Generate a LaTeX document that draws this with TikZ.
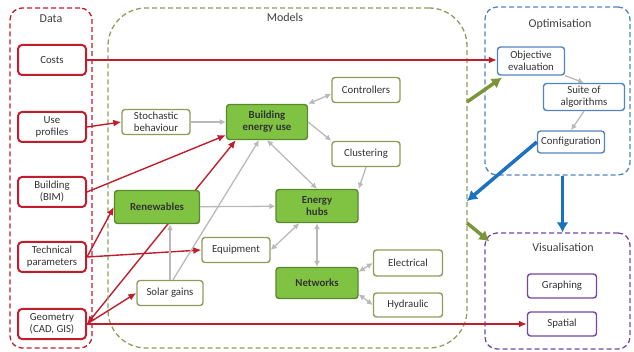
\documentclass[tikz,border=0pt]{standalone}
\usepackage{fontspec}
\setmainfont{Carlito}
\usetikzlibrary{arrows.meta,positioning,backgrounds}
\definecolor{datared}{RGB}{192,30,45}
\definecolor{modolive}{RGB}{142,158,90}
\definecolor{coregreen}{RGB}{128,195,66}
\definecolor{optblue}{RGB}{84,132,192}
\definecolor{visviolet}{RGB}{118,70,165}
\definecolor{flowgray}{RGB}{185,185,185}
\definecolor{linkblue}{RGB}{28,114,192}
\definecolor{linkgreen}{RGB}{122,150,58}

\begin{document}
\begin{tikzpicture}[x=1pt,y=-1pt,font=\fontsize{10.8}{12}\selectfont,>=Latex]
\tikzset{grp/.style={draw,dash pattern=on 5pt off 3pt,line width=1.3pt,rounded corners=12pt,inner sep=0pt},
box/.style={rounded corners=3pt,minimum width=68pt,minimum height=25pt,align=center,
inner sep=0.5pt,line width=1.4pt,fill=white,text=black!80},
databox/.style={box,draw=datared,line width=2pt,rounded corners=4pt,minimum height=30pt},
modbox/.style={box,draw=modolive},
corebox/.style={box,draw=coregreen!70!black,fill=coregreen,font=\fontsize{10.8}{12}\selectfont\bfseries,
minimum width=82pt,minimum height=33pt},
optbox/.style={box,draw=optblue},
visbox/.style={box,draw=visviolet,minimum width=69pt,minimum height=24pt},
grptitle/.style={text=black!75,font=\fontsize{12}{14}\selectfont},
dataflow/.style={->,draw=datared,line width=1.4pt,>={Latex[length=8pt,width=7pt]}},
modflow/.style={->,draw=flowgray,line width=1.3pt,>={Latex[length=6pt,width=6pt]}},
bigflow/.style={->,line width=3.5pt,>={Latex[length=10pt,width=12pt]}}}
\useasboundingbox (0,0) rectangle (634,352);
% groups
\node[grp,draw=datared,minimum width=82pt,minimum height=340pt] (data) at (51,178) {};
\node[grp,draw=modolive,rounded corners=38pt,minimum width=359pt,minimum height=340pt] (models) at (287.5,178) {};
\node[grp,draw=optblue,minimum width=145pt,minimum height=168pt] (opt) at (557.5,91) {};
\node[grp,draw=visviolet,minimum width=145pt,minimum height=116pt] (vis) at (557.5,291) {};
\node[grptitle] (datattl) at (51,19) {Data};
\node[grptitle] (modttl) at (285,17) {Models};
\node[grptitle] (optttl) at (560,24) {Optimisation};
\node[grptitle] (visttl) at (563,247) {Visualisation};
% data
\node[databox] (costs) at (52,60) {Costs};
\node[databox] (use) at (52,127) {Use\\profiles};
\node[databox] (bim) at (52,192) {Building\\(BIM)};
\node[databox] (tech) at (52,257) {Technical\\parameters};
\node[databox] (geom) at (52,324) {Geometry\\(CAD, GIS)};
% models
\node[modbox] (stoch) at (156,122) {Stochastic\\behaviour};
\node[corebox,minimum width=81pt,minimum height=35pt] (beu) at (267,122) {Building\\energy use};
\node[modbox] (ctrl) at (366,90) {Controllers};
\node[modbox] (clust) at (366,154) {Clustering};
\node[corebox] (hubs) at (317,206) {Energy\\hubs};
\node[corebox,minimum width=85pt] (ren) at (157,207) {Renewables};
\node[modbox] (equip) at (236,250) {Equipment};
\node[modbox,minimum width=66pt] (solar) at (170,293) {Solar gains};
\node[corebox,minimum height=31pt] (net) at (317,283) {Networks};
\node[modbox,minimum width=69pt,minimum height=26pt] (elec) at (408,263) {Electrical};
\node[modbox,minimum width=69pt,minimum height=24pt] (hyd) at (408,305) {Hydraulic};
% optimisation and visualisation
\node[optbox,minimum width=67pt,minimum height=28pt] (obj) at (531,61) {Objective\\evaluation};
\node[optbox,minimum width=81pt,minimum height=27pt] (suite) at (584,97) {Suite of\\algorithms};
\node[optbox,minimum width=67pt,minimum height=22pt] (config) at (571,142) {Configuration};
\node[visbox] (graph) at (562,286) {Graphing};
\node[visbox] (spatial) at (562,324) {Spatial};
% data links
\draw[dataflow] (costs.east) -- (costs.east -| obj.west);
\draw[dataflow] (use.east) -- (stoch.west);
\draw[dataflow] (bim.east) -- ([yshift=5pt]beu.south west);
\draw[dataflow] (tech.east) -- (ren.west);
\draw[dataflow] (tech.east) -- (equip.west);
\draw[dataflow] (geom.east) -- (solar.west);
\draw[dataflow] (geom.east) -- (geom.east -| spatial.west);
\begin{scope}[on background layer]
\draw[dataflow,<->] (geom.east) -- ([xshift=10pt]beu.south west);
\end{scope}
% model links
\draw[modflow] (stoch) -- (beu);
\draw[modflow,<->] (beu.north east) -- ([yshift=-4pt]ctrl.west);
\draw[modflow] (beu.east) -- (clust.north west);
\draw[modflow] (clust.south) -- (hubs.north east);
\draw[modflow,<->] (beu.south) -- (hubs.north);
\draw[modflow] (ren) -- (hubs);
\draw[modflow] (solar.north) -- (solar.north |- ren.south);
\draw[modflow] ([xshift=3pt]solar.north) -- ([xshift=-8pt]beu.south);
\draw[modflow,<->] (equip.east) -- ([xshift=24pt]hubs.south west);
\draw[modflow,<->] (hubs) -- (net);
\draw[modflow,<->] ([yshift=-5pt]net.north east) -- (elec.west);
\draw[modflow,<->] ([yshift=5pt]net.south east) -- (hyd.west);
\draw[modflow] (obj.south east) -- (suite.north);
\draw[modflow] (suite.south) -- (config.north);
% group links
\coordinate (mtop) at (467,102);
\coordinate (mmid) at (467,201);
\coordinate (mlow) at (467,223);
\draw[bigflow,draw=linkgreen] (mtop) -- ([shift={(5pt,-2pt)}]obj.south west);
\draw[bigflow,draw=linkblue] (config.west) -- (mmid);
\draw[bigflow,draw=linkblue] ([xshift=5pt]opt.south) -- ([xshift=5pt]vis.north);
\draw[bigflow,draw=linkgreen] (mlow) -- ([shift={(5pt,-9pt)}]vis.north west);
\end{tikzpicture}
\end{document}
